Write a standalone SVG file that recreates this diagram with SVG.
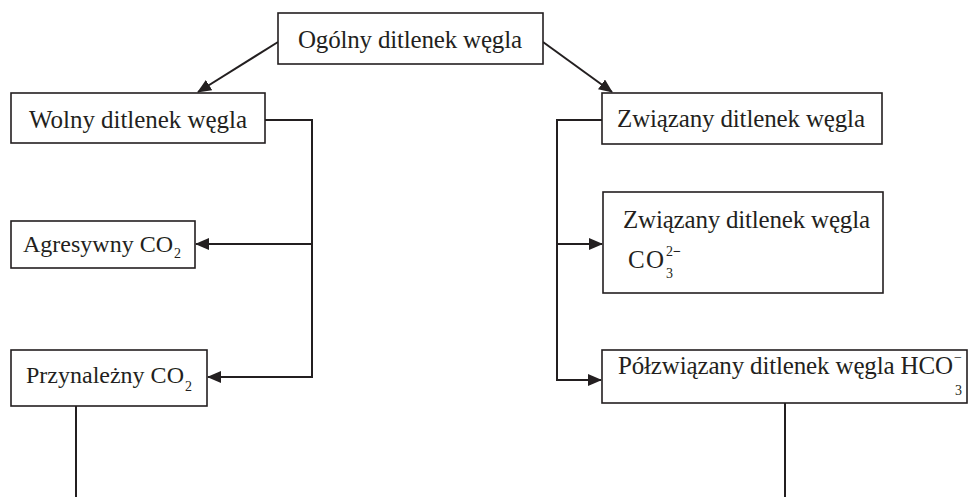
<svg xmlns="http://www.w3.org/2000/svg" width="969" height="497" viewBox="0 0 969 497">
<style>
.box{fill:#fff;stroke:#231f20;stroke-width:1.6}
.t{font-family:"Liberation Serif","DejaVu Serif",serif;font-size:25px;fill:#231f20}
.m{font-size:24px}
.s{font-size:14px}
.c{fill:none;stroke:#231f20;stroke-width:2}
</style>
<defs>
<marker id="ah" markerUnits="userSpaceOnUse" markerWidth="14" markerHeight="12" refX="13" refY="6" orient="auto">
<path d="M0,0 L14,6 L0,12 z" fill="#231f20"/>
</marker>
</defs>
<g id="connectors">
<path class="c" d="M278,42 L198,92" stroke-width="1.5" marker-end="url(#ah)"/>
<path class="c" d="M543,42 L612,92" stroke-width="1.5" marker-end="url(#ah)"/>
<path class="c" d="M265,120 H312 V377 H208" marker-end="url(#ah)"/>
<path class="c" d="M312,244 H196" marker-end="url(#ah)"/>
<path class="c" d="M602,120 H557 V380 H601" marker-end="url(#ah)"/>
<path class="c" d="M557,244 H602" marker-end="url(#ah)"/>
<path class="c" d="M76,406 V497"/>
<path class="c" d="M785,403 V497"/>
</g>
<g id="ogolny">
<rect class="box" x="278" y="13" width="265" height="51"/>
<text class="t" x="298" y="48" textLength="224">Ogólny ditlenek węgla</text>
</g>
<g id="wolny">
<rect class="box" x="11" y="93" width="254" height="50"/>
<text class="t" x="29" y="128" textLength="218">Wolny ditlenek węgla</text>
</g>
<g id="agresywny">
<rect class="box" x="11" y="221" width="184" height="47"/>
<text class="t m" x="23" y="252">Agresywny CO<tspan class="s" dx="1" dy="6">2</tspan></text>
</g>
<g id="przynalezny">
<rect class="box" x="11" y="350" width="196" height="56"/>
<text class="t m" x="26" y="383">Przynależny CO<tspan class="s" dx="1" dy="8">2</tspan></text>
</g>
<g id="zwiazany">
<rect class="box" x="602" y="93" width="280" height="51"/>
<text class="t" x="617" y="127" textLength="248">Związany ditlenek węgla</text>
</g>
<g id="zwiazany-co3">
<rect class="box" x="603" y="192" width="280" height="101"/>
<text class="t" x="623" y="228" textLength="247">Związany ditlenek węgla</text>
<text class="t" x="628" y="268" textLength="36">CO</text>
<text class="t s" x="666" y="278">3</text>
<text class="t s" x="666" y="256">2<tspan font-weight="bold">−</tspan></text>
</g>
<g id="polzwiazany">
<rect class="box" x="602" y="350" width="365" height="53"/>
<text class="t" x="618" y="374" textLength="335">Półzwiązany ditlenek węgla HCO</text>
<text class="t s" x="955" y="395">3</text>
<text class="t s" x="954" y="362">−</text>
</g>
</svg>
